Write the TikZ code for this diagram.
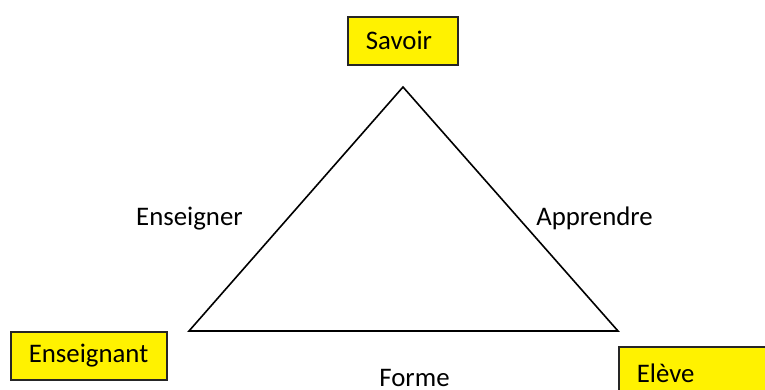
\documentclass[tikz,border=0pt]{standalone}
\usepackage{fontspec}
\setmainfont{Carlito}

\begin{document}
\begin{tikzpicture}[x=0.5pt,y=-0.5pt,line width=0.8pt,
  font=\fontsize{13.4}{16}\selectfont,
  pole/.style={draw=black!85,fill=yellow,rectangle,anchor=north west,
    inner xsep=9pt,inner ysep=0pt,minimum height=24pt,align=left},
  verb/.style={anchor=base,inner sep=0pt}]

  \useasboundingbox (0,0) rectangle (765,390);
  \clip (0,0) rectangle (765,390);

  % triangle
  \coordinate (top) at (403,87);
  \coordinate (left) at (189,331);
  \coordinate (right) at (618,331);
  \draw[line join=miter] (top) -- (left) -- (right) -- cycle;

  % les trois poles
  \node[pole,text width=37pt] (savoir) at (347,16) {Savoir};
  \node[pole,text width=60pt] (enseignant) at (10,331) {Enseignant};
  \node[pole,text width=75pt,minimum height=26pt] (eleve) at (618,346) {Elève};

  % les trois processus
  \node[verb] (enseigner) at (189.5,225) {Enseigner};
  \node[verb] (apprendre) at (594.5,225) {Apprendre};
  \node[verb] (forme) at (414.5,386) {Forme};
\end{tikzpicture}
\end{document}
